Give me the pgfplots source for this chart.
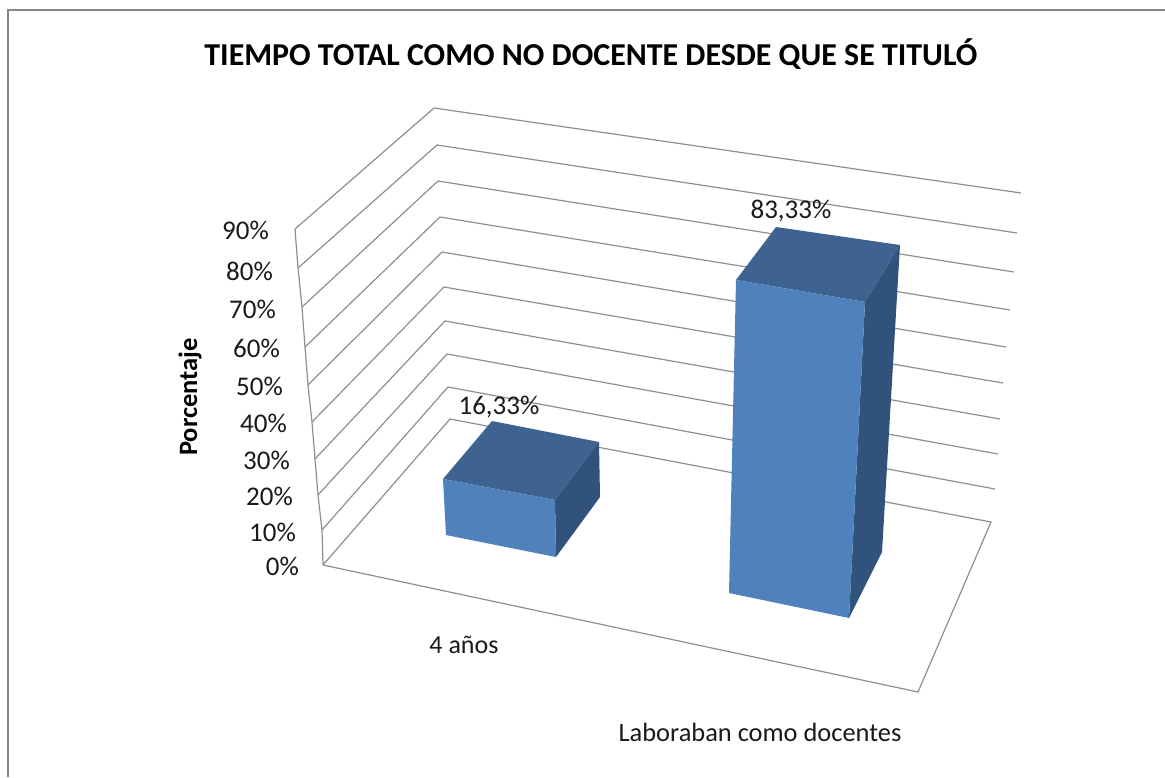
\documentclass[border=0pt]{standalone}
\usepackage{fontspec}
\setmainfont{Carlito}
\usepackage{pgfplots}
\pgfplotsset{compat=1.18}
\definecolor{gridc}{HTML}{8F8F8F}
\definecolor{framec}{HTML}{868686}
\definecolor{barfront}{HTML}{4F81BD}
\definecolor{bartop}{HTML}{3E6390}
\definecolor{barside}{HTML}{31527A}
\definecolor{txt}{HTML}{1A1A1A}
\begin{document}
\begin{tikzpicture}
\begin{axis}[
  scale only axis, width=1165pt, height=777pt,
  xmin=0, xmax=1165, ymin=0, ymax=777, y dir=reverse,
  hide axis, clip=true,
  every axis plot/.append style={no markers},
]
% page background keeps the full extent
\addplot[fill=white, draw=none] coordinates {(0,0) (1165,0) (1165,777) (0,777)} -- cycle;
% frame
\addplot[framec, line width=2.2pt] coordinates {(8,777) (8,10) (1165,10)};
% wall edge
\addplot[gridc, line width=1.2pt] coordinates {(295,229) (298,268) (302,307) (305,347) (308,385) (312,422) (315,459) (318,495) (322,530) (323,565)};
% gridlines 90% ... 10%
\addplot[gridc, line width=1.2pt] coordinates {(295,229) (434,108) (1021,193)};
\addplot[gridc, line width=1.2pt] coordinates {(298,268) (437,145) (1017,233)};
\addplot[gridc, line width=1.2pt] coordinates {(302,307) (438,181) (1014,272)};
\addplot[gridc, line width=1.2pt] coordinates {(305,347) (440,217) (1010,310)};
\addplot[gridc, line width=1.2pt] coordinates {(308,385) (442,252) (1006,347)};
\addplot[gridc, line width=1.2pt] coordinates {(312,422) (444,287) (1003,383)};
\addplot[gridc, line width=1.2pt] coordinates {(315,459) (445,321) (1000,419)};
\addplot[gridc, line width=1.2pt] coordinates {(318,495) (447,354) (998,454)};
\addplot[gridc, line width=1.2pt] coordinates {(322,530) (448,387) (995,489)};
% floor
\addplot[gridc, line width=1.2pt] coordinates {(323,565) (450,419) (991,522) (918,692) (323,565)};
% bar 1 (16,33%)
\addplot[fill=bartop, draw=none] coordinates {(443,479) (555,500) (599,442) (492,421)} -- cycle;
\addplot[fill=barside, draw=none] coordinates {(555,500) (599,442) (600,497) (556,557)} -- cycle;
\addplot[fill=barfront, draw=none] coordinates {(443,479) (555,500) (556,557) (446,535)} -- cycle;
% bar 2 (83,33%)
\addplot[fill=bartop, draw=none] coordinates {(736,280) (865,302) (900,245) (776,227)} -- cycle;
\addplot[fill=barside, draw=none] coordinates {(865,302) (900,245) (882,552) (849,618)} -- cycle;
\addplot[fill=barfront, draw=none] coordinates {(736,280) (865,302) (849,618) (729,593)} -- cycle;
% title
\node[anchor=center, font=\fontsize{31.9}{32}\selectfont\bfseries, text=black] at (axis cs:591,54) {TIEMPO TOTAL COMO NO DOCENTE DESDE QUE SE TITULÓ};
% y labels
\node[anchor=east, inner xsep=0pt, font=\fontsize{27}{27}\selectfont, text=txt] at (axis cs:269,230) {90\%};
\node[anchor=east, inner xsep=0pt, font=\fontsize{27}{27}\selectfont, text=txt] at (axis cs:273,271) {80\%};
\node[anchor=east, inner xsep=0pt, font=\fontsize{27}{27}\selectfont, text=txt] at (axis cs:276,309) {70\%};
\node[anchor=east, inner xsep=0pt, font=\fontsize{27}{27}\selectfont, text=txt] at (axis cs:280,348) {60\%};
\node[anchor=east, inner xsep=0pt, font=\fontsize{27}{27}\selectfont, text=txt] at (axis cs:283,386) {50\%};
\node[anchor=east, inner xsep=0pt, font=\fontsize{27}{27}\selectfont, text=txt] at (axis cs:287,423) {40\%};
\node[anchor=east, inner xsep=0pt, font=\fontsize{27}{27}\selectfont, text=txt] at (axis cs:290,460) {30\%};
\node[anchor=east, inner xsep=0pt, font=\fontsize{27}{27}\selectfont, text=txt] at (axis cs:293,496) {20\%};
\node[anchor=east, inner xsep=0pt, font=\fontsize{27}{27}\selectfont, text=txt] at (axis cs:296,532) {10\%};
\node[anchor=east, inner xsep=0pt, font=\fontsize{27}{27}\selectfont, text=txt] at (axis cs:299,566) {0\%};
\node[rotate=90, font=\fontsize{26.5}{27}\selectfont\bfseries, text=black] at (axis cs:190,397) {Porcentaje};
\node[font=\fontsize{27}{27}\selectfont, text=txt] at (axis cs:499,407) {16,33\%};
\node[font=\fontsize{27}{27}\selectfont, text=txt] at (axis cs:791,211) {83,33\%};
\node[font=\fontsize{26}{26}\selectfont, text=txt] at (axis cs:464,645) {4 años};
\node[font=\fontsize{26.4}{26}\selectfont, text=txt] at (axis cs:760,732) {Laboraban como docentes};
\end{axis}
\end{tikzpicture}
\end{document}
